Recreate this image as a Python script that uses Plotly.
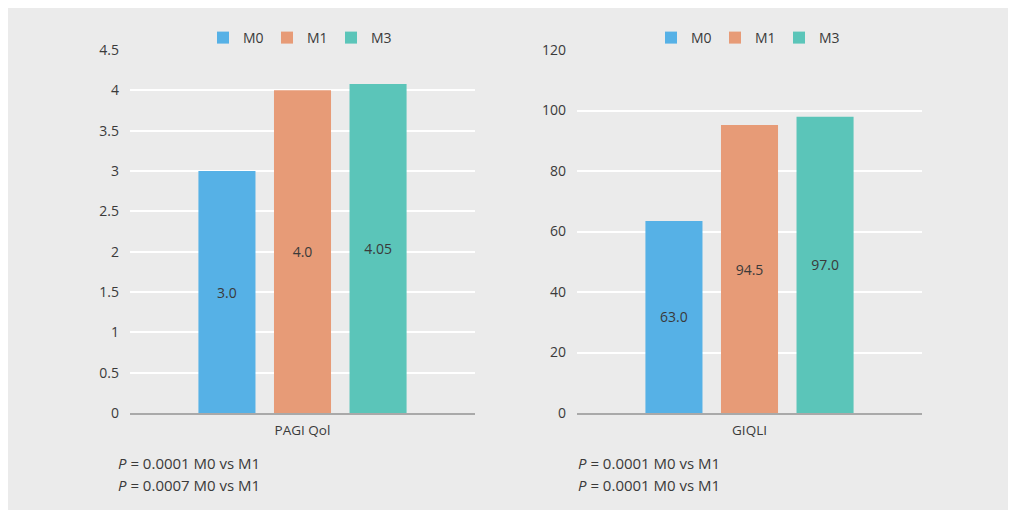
import plotly.graph_objects as go

W, H = 1015, 514

series = ["M0", "M1", "M3"]
colors = ["#56b1e6", "#e79b77", "#5bc5b9"]

pagi_category = ["PAGI Qol"]
pagi_values = [3.0, 4.0, 4.08]
pagi_labels = ["3.0", "4.0", "4.05"]
pagi_ticks = [0, 0.5, 1, 1.5, 2, 2.5, 3, 3.5, 4, 4.5]
pagi_notes = ["<i>P</i> = 0.0001 M0 vs M1", "<i>P</i> = 0.0007 M0 vs M1"]

giqli_category = ["GIQLI"]
giqli_values = [63.5, 95.2, 97.9]
giqli_labels = ["63.0", "94.5", "97.0"]
giqli_ticks = [0, 20, 40, 60, 80, 100, 120]
giqli_notes = ["<i>P</i> = 0.0001 M0 vs M1", "<i>P</i> = 0.0001 M0 vs M1"]

FONT = "Open Sans"
TXT = "#3a3a3a"

def px(x):
    return x / W

def py(y):
    return (H - y) / H

fig = go.Figure()

for i, s in enumerate(series):
    fig.add_trace(go.Bar(
        x=pagi_category, y=[pagi_values[i]], name=s, text=[pagi_labels[i]],
        marker=dict(color=colors[i], line=dict(width=0)),
        textposition="inside", insidetextanchor="middle",
        textfont=dict(color=TXT, size=14, family=FONT),
        xaxis="x", yaxis="y", legend="legend", hoverinfo="skip"))
for i, s in enumerate(series):
    fig.add_trace(go.Bar(
        x=giqli_category, y=[giqli_values[i]], name=s, text=[giqli_labels[i]],
        marker=dict(color=colors[i], line=dict(width=0)),
        textposition="inside", insidetextanchor="middle",
        textfont=dict(color=TXT, size=14, family=FONT),
        xaxis="x2", yaxis="y2", legend="legend2", hoverinfo="skip"))

yax = dict(showgrid=True, gridcolor="#ffffff", gridwidth=1.5, zeroline=False,
           showline=False, ticks="", tickfont=dict(size=14, color=TXT, family=FONT),
           ticklabelstandoff=10, fixedrange=True, automargin=False)
xax = dict(showgrid=False, zeroline=False, showline=True, linecolor="#a9a9a9",
           linewidth=2, ticks="", tickfont=dict(size=13.5, color=TXT, family=FONT),
           ticklabelstandoff=4, fixedrange=True, automargin=False)

leg = dict(orientation="h", xanchor="center", yanchor="middle",
           font=dict(size=14, color=TXT, family=FONT), bgcolor="rgba(0,0,0,0)",
           itemwidth=30, traceorder="normal", entrywidth=19, entrywidthmode="pixels")

fig.update_layout(
    template="none",
    width=W, height=H,
    margin=dict(l=0, r=0, t=0, b=0, autoexpand=False),
    paper_bgcolor="#ffffff", plot_bgcolor="rgba(0,0,0,0)",
    font=dict(family=FONT, color=TXT, size=13),
    barmode="group", bargap=0.343, bargroupgap=0.245,
    xaxis=dict(xax, domain=[px(130), px(475)], anchor="y"),
    yaxis=dict(yax, domain=[py(413), py(50)], range=[0, 4.5], tickvals=pagi_ticks, anchor="x"),
    xaxis2=dict(xax, domain=[px(577), px(922)], anchor="y2"),
    yaxis2=dict(yax, domain=[py(413), py(50)], range=[0, 120], tickvals=giqli_ticks, anchor="x2"),
    legend=dict(leg, x=px(299), y=py(38)),
    legend2=dict(leg, x=px(747), y=py(38)),
    shapes=[dict(type="rect", xref="paper", yref="paper", x0=px(8), x1=px(1008),
                 y0=py(510), y1=py(8), fillcolor="#ebebeb", line=dict(width=0), layer="below")],
)

annots = []
for j, t in enumerate(pagi_notes):
    annots.append(dict(text=t, x=px(116), y=py(463 + 22 * j), xref="paper", yref="paper",
                       xanchor="left", yanchor="middle", showarrow=False,
                       font=dict(size=15, color=TXT, family=FONT)))
for j, t in enumerate(giqli_notes):
    annots.append(dict(text=t, x=px(576), y=py(463 + 22 * j), xref="paper", yref="paper",
                       xanchor="left", yanchor="middle", showarrow=False,
                       font=dict(size=15, color=TXT, family=FONT)))
fig.update_layout(annotations=annots)

fig.write_html("out.html", config={"displayModeBar": False},
               post_script="document.body.style.margin='0';document.body.style.overflow='hidden';")
